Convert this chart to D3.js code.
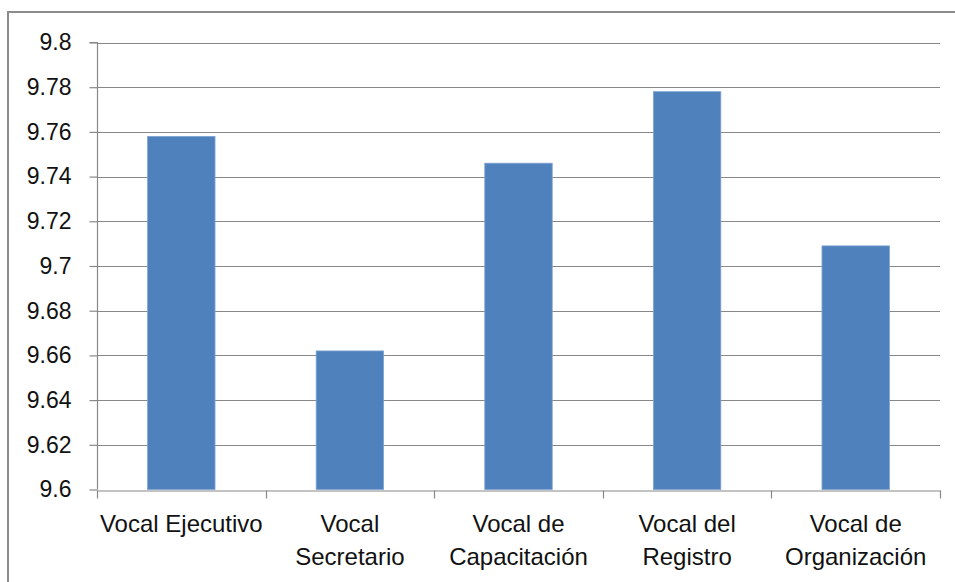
<!DOCTYPE html>
<html>
<head>
<meta charset="utf-8">
<script src="https://cdn.jsdelivr.net/npm/d3@7"></script>
<style>
  html, body { margin: 0; padding: 0; background: #fff; }
  svg { display: block; }
  text { font-family: "Liberation Sans", Arial, sans-serif; fill: #111; }
</style>
</head>
<body>
<svg id="chart" width="955" height="582"></svg>
<script>
const categories = ["Vocal Ejecutivo", "Vocal Secretario", "Vocal de Capacitación", "Vocal del Registro", "Vocal de Organización"];
const values = [9.758, 9.662, 9.746, 9.778, 9.709];
const yTicks = [9.6, 9.62, 9.64, 9.66, 9.68, 9.7, 9.72, 9.74, 9.76, 9.78, 9.8];

const W = 955, H = 582;
const svg = d3.select("#chart");

// outer chart border (only left & top visible)
svg.append("path")
  .attr("d", `M8,${H} L8,12 L${W},12`)
  .attr("fill", "none").attr("stroke", "#8c8c8c").attr("stroke-width", 2);

const x = d3.scaleBand().domain(categories).range([97, 940]).paddingInner(0.6).paddingOuter(0.3);
const xCat = d3.scaleBand().domain(categories).range([97, 940]);
const y = d3.scaleLinear().domain([9.6, 9.8]).range([489.5, 42.5]);

// gridlines
svg.append("g").selectAll("line").data(yTicks.filter(d => d > 9.6)).join("line")
  .attr("x1", 97).attr("x2", 940)
  .attr("y1", d => Math.round(y(d)) + 0.5).attr("y2", d => Math.round(y(d)) + 0.5)
  .attr("stroke", "#888").attr("stroke-width", 1.2);

// bars
svg.append("g").selectAll("rect").data(values).join("rect")
  .attr("x", (d, i) => x(categories[i]))
  .attr("width", x.bandwidth())
  .attr("y", d => y(d))
  .attr("height", d => y(9.6) - y(d))
  .attr("fill", "#4f81bd")
  .attr("stroke", "#7fa3d1").attr("stroke-width", 0.8);

// y axis
const yAxis = d3.axisLeft(y).tickValues(yTicks).tickSize(8).tickPadding(18)
  .tickFormat(d => String(+d.toFixed(2)));
const gy = svg.append("g").attr("transform", "translate(97.5,0)").call(yAxis);
gy.select(".domain").attr("stroke", "#888").attr("stroke-width", 1.2).attr("d", `M-8,${y(9.8)}H0V${y(9.6)}`);
gy.selectAll(".tick line").attr("stroke", "#888").attr("stroke-width", 1.2);
gy.selectAll(".tick text").attr("font-size", 23).attr("font-family", "Liberation Sans, Arial, sans-serif").attr("fill", "#111");

// x axis
const xAxis = d3.axisBottom(xCat).tickSize(0).tickPadding(0).tickFormat("");
const gx = svg.append("g").attr("transform", `translate(0,${Math.round(y(9.6)) + 0.5})`).call(xAxis);
gx.select(".domain").attr("stroke", "#888").attr("stroke-width", 1.2);
gx.selectAll(".tick").remove();
// category boundary ticks
const bounds = categories.map(c => xCat(c)).concat([xCat.range()[1]]);
gx.selectAll("line.b").data(bounds).join("line").attr("class", "b")
  .attr("x1", d => Math.round(d) + 0.5).attr("x2", d => Math.round(d) + 0.5)
  .attr("y1", 0).attr("y2", 8).attr("stroke", "#888").attr("stroke-width", 1.2);

// category labels with word wrap
const labels = svg.append("g").selectAll("text").data(categories).join("text")
  .attr("x", d => xCat(d) + xCat.bandwidth() / 2)
  .attr("y", 532)
  .attr("text-anchor", "middle")
  .attr("font-size", 24);

labels.each(function(d) {
  const t = d3.select(this);
  const words = d.split(" ");
  const maxW = xCat.bandwidth();
  let line = [], lines = [];
  const probe = t.append("tspan");
  words.forEach(w => {
    const test = line.concat([w]).join(" ");
    probe.text(test);
    if (probe.node().getComputedTextLength() > maxW && line.length) {
      lines.push(line.join(" "));
      line = [w];
    } else line.push(w);
  });
  lines.push(line.join(" "));
  probe.remove();
  lines.forEach((l, i) => {
    t.append("tspan").attr("x", xCat(d) + xCat.bandwidth() / 2).attr("dy", i === 0 ? 0 : 33).text(l);
  });
});
</script>
</body>
</html>
